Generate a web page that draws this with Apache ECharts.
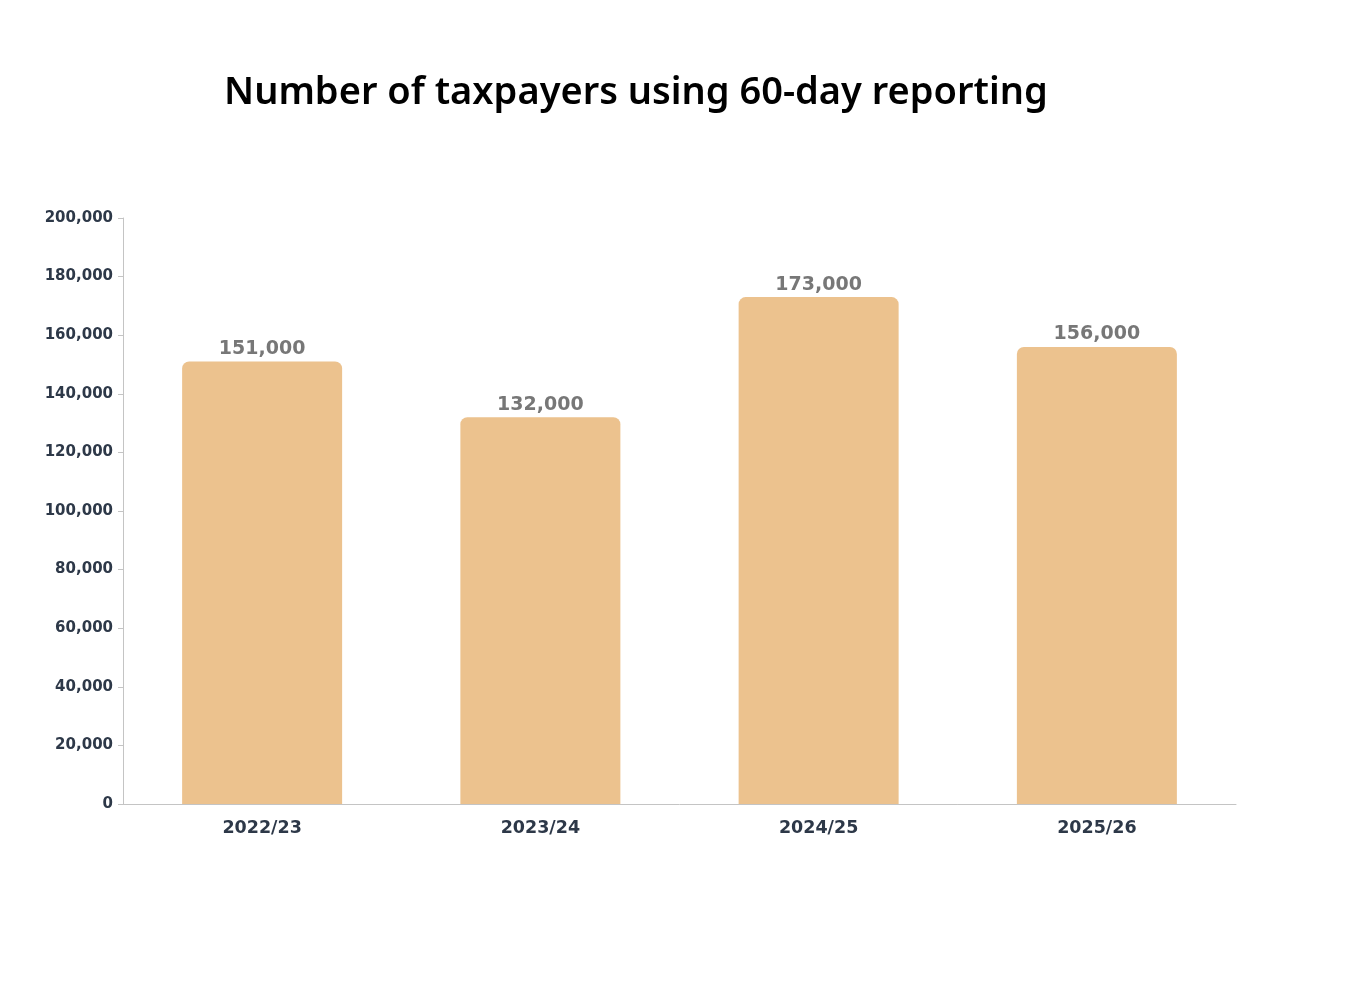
<!DOCTYPE html>
<html>
<head>
<meta charset="utf-8">
<style>
  html, body { margin: 0; padding: 0; background: #fff; }
  #chart { width: 1366px; height: 1000px; }
</style>
<script src="https://cdn.jsdelivr.net/npm/echarts@6/dist/echarts.min.js"></script>
</head>
<body>
<div id="chart"></div>
<script>
  const categories = ['2022/23', '2023/24', '2024/25', '2025/26'];
  const taxpayers = [151000, 132000, 173000, 156000];

  const chart = echarts.init(document.getElementById('chart'));
  const fmt = (v) => Number(v).toLocaleString('en-US');

  chart.setOption({
    backgroundColor: '#fff',
    title: {
      text: 'Number of taxpayers using 60-day reporting',
      left: 219,
      top: 69,
      textStyle: { fontFamily: 'Noto Sans', fontSize: 38, fontWeight: 600, color: '#000' },
    },
    grid: { left: 123, right: 130, top: 218, bottom: 196, containLabel: false },
    xAxis: {
      type: 'category',
      data: categories,
      axisLine: { lineStyle: { color: '#c4c4c4' } },
      axisTick: { alignWithLabel: true, lineStyle: { color: '#999' }, length: 5 },
      axisLabel: { color: '#2d3848', fontFamily: 'DejaVu Sans', fontWeight: 'bold', fontSize: 17.5, margin: 15 },
    },
    yAxis: {
      type: 'value',
      min: 0,
      max: 200000,
      interval: 20000,
      axisLine: { show: true, lineStyle: { color: '#c4c4c4' } },
      axisTick: { show: true, lineStyle: { color: '#c4c4c4' }, length: 5 },
      splitLine: { show: false },
      axisLabel: { color: '#2d3848', fontFamily: 'DejaVu Sans', fontWeight: 'bold', fontSize: 15, margin: 10, formatter: fmt },
    },
    series: [
      {
        type: 'bar',
        data: taxpayers,
        barWidth: 160,
        itemStyle: { color: '#ecc28e', borderRadius: [7, 7, 0, 0] },
        label: {
          show: true,
          position: 'top',
          distance: 3,
          color: '#777',
          fontFamily: 'DejaVu Sans',
          fontWeight: 'bold',
          fontSize: 19,
          formatter: (p) => fmt(p.value),
        },
      },
    ],
  });
</script>
</body>
</html>
